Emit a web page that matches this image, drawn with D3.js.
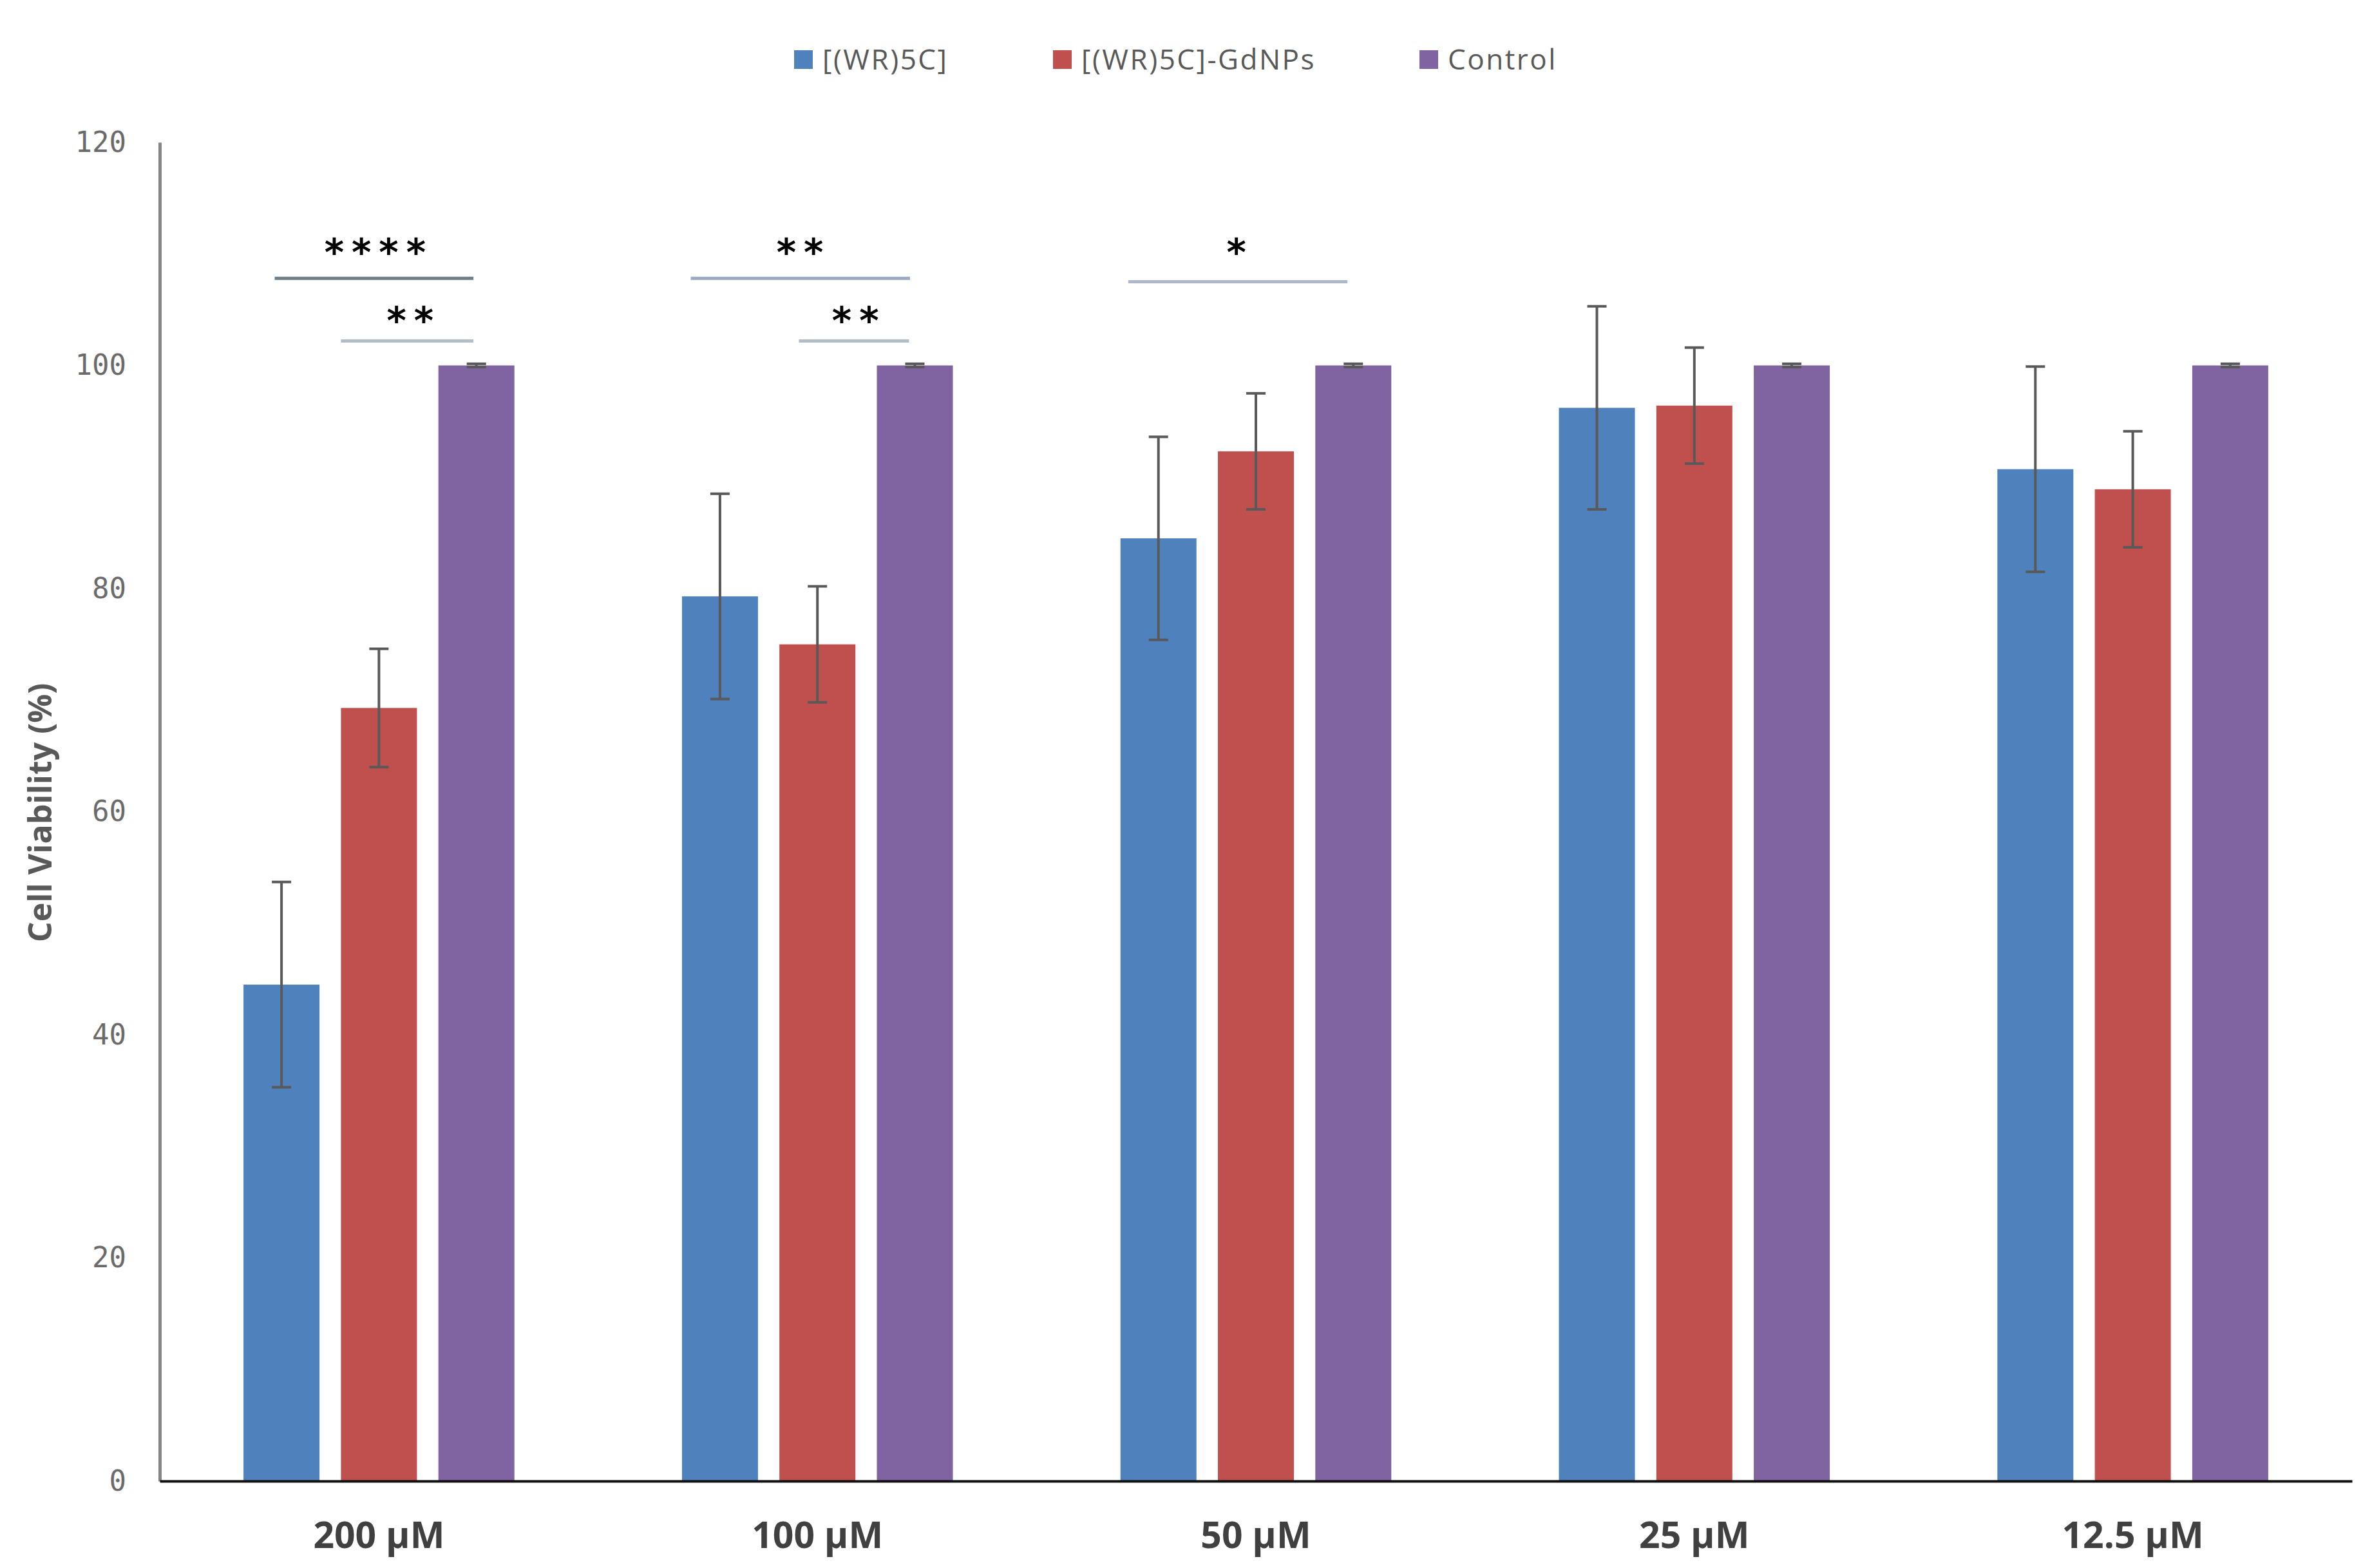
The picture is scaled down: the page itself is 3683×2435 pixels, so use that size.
<!DOCTYPE html>
<html>
<head>
<meta charset="utf-8">
<script src="https://cdn.jsdelivr.net/npm/d3@7"></script>
<style>
  body { margin: 0; background: #fff; }
</style>
</head>
<body>
<div id="chart"></div>
<script>
var svgWidth = 3683;
var svgHeight = 2435;

// Data
var categories = ["200 µM", "100 µM", "50 µM", "25 µM", "12.5 µM"];
var seriesNames = ["[(WR)5C]", "[(WR)5C]-GdNPs", "Control"];
var seriesColors = ["#4f81bd", "#c0504d", "#8064a2"];

var peptideMean = [44.5, 79.3, 84.5, 96.2, 90.7];
var peptideErr = [9.2, 9.2, 9.1, 9.1, 9.2];
var gdnpMean = [69.3, 75.0, 92.3, 96.4, 88.9];
var gdnpErr = [5.3, 5.2, 5.2, 5.2, 5.2];
var controlMean = [100, 100, 100, 100, 100];
var controlErr = [0.15, 0.15, 0.15, 0.15, 0.15];

var yTicks = [0, 20, 40, 60, 80, 100, 120];

// significance brackets: position in bar-step units from group start
var sigLines = [
  {cat: "200 µM", from: 0.43, to: 2.47, y: 107.8, color: "#6f7d86"},
  {cat: "200 µM", from: 1.11, to: 2.47, y: 102.2, color: "#b3bdc7"},
  {cat: "100 µM", from: 0.20, to: 2.45, y: 107.8, color: "#9aaabf"},
  {cat: "100 µM", from: 1.31, to: 2.44, y: 102.2, color: "#b3bdc7"},
  {cat: "50 µM", from: 0.19, to: 2.44, y: 107.5, color: "#adb9c9"}
];
var sigStars = [
  {cat: "200 µM", at: 1.46, y: 110.6, text: "****"},
  {cat: "200 µM", at: 1.82, y: 104.5, text: "**"},
  {cat: "100 µM", at: 1.32, y: 110.6, text: "**"},
  {cat: "100 µM", at: 1.89, y: 104.5, text: "**"},
  {cat: "50 µM", at: 1.30, y: 110.6, text: "*"}
];

var means = [peptideMean, gdnpMean, controlMean];
var errs = [peptideErr, gdnpErr, controlErr];

var plot = {left: 248, right: 3652, top: 221, bottom: 2300};

var svg = d3.select("#chart")
  .append("svg")
  .attr("width", svgWidth)
  .attr("height", svgHeight);

var x0 = d3.scaleBand()
  .domain(categories)
  .range([plot.left, plot.right])
  .paddingInner(1 / 3)
  .paddingOuter(1 / 6);

var x1 = d3.scaleBand()
  .domain(seriesNames)
  .range([0, x0.bandwidth()])
  .paddingInner(0.22)
  .paddingOuter(0.11);

var y = d3.scaleLinear()
  .domain([0, 120])
  .range([plot.bottom, plot.top]);

// flatten to one row per bar
var rows = [];
categories.forEach(function(c, i) {
  seriesNames.forEach(function(s, j) {
    rows.push({cat: c, series: s, idx: j, value: means[j][i], err: errs[j][i]});
  });
});

// bars
svg.append("g").selectAll("rect")
  .data(rows)
  .enter()
  .append("rect")
  .attr("x", d => x0(d.cat) + x1(d.series))
  .attr("y", d => y(d.value))
  .attr("width", x1.bandwidth())
  .attr("height", d => y(0) - y(d.value))
  .attr("fill", d => seriesColors[d.idx]);

// error bars
var capW = 30;
var errG = svg.append("g")
  .attr("stroke", "#595959")
  .attr("stroke-width", 4);

var errBars = errG.selectAll("g")
  .data(rows)
  .enter()
  .append("g")
  .attr("transform", d => `translate(${x0(d.cat) + x1(d.series) + x1.bandwidth() / 2},0)`);

errBars.append("line")
  .attr("x1", 0).attr("x2", 0)
  .attr("y1", d => y(d.value + d.err))
  .attr("y2", d => y(d.value - d.err));
errBars.append("line")
  .attr("x1", -capW / 2).attr("x2", capW / 2)
  .attr("y1", d => y(d.value + d.err))
  .attr("y2", d => y(d.value + d.err));
errBars.append("line")
  .attr("x1", -capW / 2).attr("x2", capW / 2)
  .attr("y1", d => y(d.value - d.err))
  .attr("y2", d => y(d.value - d.err));

// y axis
var leftAxis = d3.axisLeft(y).tickValues(yTicks).tickSize(0).tickPadding(52);
var yAxis = svg.append("g")
  .attr("transform", `translate(${plot.left},0)`)
  .call(leftAxis);
yAxis.select(".domain")
  .attr("stroke", "#868686")
  .attr("stroke-width", 5);
yAxis.selectAll("text")
  .attr("font-family", "'DejaVu Sans Mono', monospace")
  .attr("font-size", 44)
  .attr("fill", "#6b6b6b");

// x axis
var bottomAxis = d3.axisBottom(x0).tickSize(0).tickPadding(0);
var xAxis = svg.append("g")
  .attr("transform", `translate(0,${plot.bottom})`)
  .call(bottomAxis);
xAxis.select(".domain")
  .attr("stroke", "#111")
  .attr("stroke-width", 4);
xAxis.selectAll("text")
  .attr("dy", null)
  .attr("y", 104)
  .attr("font-family", "'Open Sans', sans-serif")
  .attr("font-weight", "bold")
  .attr("font-size", 57)
  .attr("fill", "#404040");

// y axis title
svg.append("text")
  .attr("transform", `translate(80,1262) rotate(-90)`)
  .attr("text-anchor", "middle")
  .attr("font-family", "'Open Sans', sans-serif")
  .attr("font-weight", "bold")
  .attr("font-size", 50)
  .attr("fill", "#595959")
  .text("Cell Viability (%)");

// significance lines
svg.append("g").selectAll("line")
  .data(sigLines)
  .enter()
  .append("line")
  .attr("x1", d => x0(d.cat) + d.from * x1.step())
  .attr("x2", d => x0(d.cat) + d.to * x1.step())
  .attr("y1", d => y(d.y))
  .attr("y2", d => y(d.y))
  .attr("stroke", d => d.color)
  .attr("stroke-width", 5);

var starSpacing = 12;
svg.append("g").selectAll("text")
  .data(sigStars)
  .enter()
  .append("text")
  .attr("x", d => x0(d.cat) + d.at * x1.step())
  .attr("y", d => y(d.y) + 28)
  .attr("dx", starSpacing / 2)
  .attr("text-anchor", "middle")
  .attr("letter-spacing", starSpacing)
  .attr("font-family", "'DejaVu Sans', sans-serif")
  .attr("font-weight", "bold")
  .attr("font-size", 58)
  .attr("fill", "#000")
  .text(d => d.text);

// legend
var legendX = [1233, 1635, 2204];
var legend = svg.append("g").selectAll("g")
  .data(seriesNames)
  .enter()
  .append("g")
  .attr("transform", (d, i) => `translate(${legendX[i]},78)`);
legend.append("rect")
  .attr("width", 29)
  .attr("height", 29)
  .attr("fill", (d, i) => seriesColors[i]);
legend.append("text")
  .attr("x", 44)
  .attr("y", 30)
  .attr("font-family", "'Open Sans', sans-serif")
  .attr("font-size", 44)
  .attr("letter-spacing", 2.5)
  .attr("fill", "#595959")
  .text(d => d);
</script>
</body>
</html>
